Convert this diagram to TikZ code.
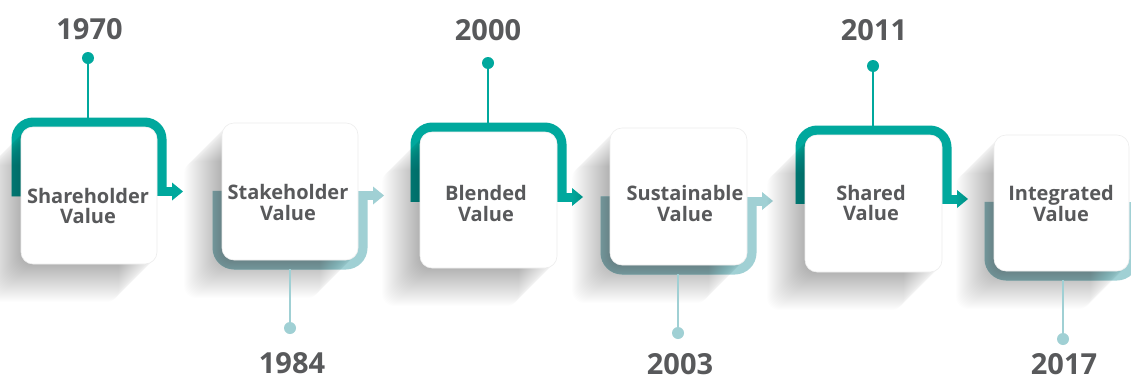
\documentclass[tikz,border=0pt]{standalone}
\usepackage{fontspec}
\setmainfont{Open Sans}
\definecolor{tealD}{RGB}{0,168,157}
\definecolor{tealL}{RGB}{160,208,212}
\definecolor{txt}{RGB}{88,89,91}
\newcommand\cardshadow[4]{%
  \foreach \k in {1,...,38}{\fill[shadowc] (#1-\k,#2+\k) rectangle (#3-\k,#4+\k);}}
% top bracket: L T R yA colour
\newcommand\topbracket[5]{%
  \draw[bracketline=#5] (#1-4.75,#4+4.75) -- (#1-4.75,#2-4.75) -- (#3+4.75,#2-4.75) -- (#3+4.75,#4);
  \fill[#5] (#3,#4-4.5) rectangle (#3+16,#4+4.5);
  \fill[#5] (#3+15,#4-9) -- (#3+26,#4) -- (#3+15,#4+9) -- cycle;}
% bottom bracket: L B R yA colour
\newcommand\botbracket[5]{%
  \draw[bracketline=#5] (#1-4.75,#4-4.75) -- (#1-4.75,#2+4.75) -- (#3+4.75,#2+4.75) -- (#3+4.75,#4);
  \fill[#5] (#3,#4-4.5) rectangle (#3+16,#4+4.5);
  \fill[#5] (#3+15,#4-9) -- (#3+26,#4) -- (#3+15,#4+9) -- cycle;}
\begin{document}
\begin{tikzpicture}[x=1pt,y=-1pt,
  shadowc/.style={black,fill opacity=0.006,rounded corners=12pt},
  bracketline/.style={draw=#1,line width=9.5pt,rounded corners=17pt},
  card/.style={draw=black!7,line width=0.6pt,fill=white,rounded corners=12pt,inner sep=0pt},
  cardtext/.style={text=txt,font=\fontsize{20}{20.5}\selectfont\bfseries,align=center,inner sep=0pt},
  year/.style={text=txt,font=\fontsize{29}{30}\selectfont\bfseries,inner sep=0pt},
  dotD/.style={circle,fill=tealD,minimum size=12pt,inner sep=0pt},
  dotL/.style={circle,fill=tealL,minimum size=12pt,inner sep=0pt},
  stemD/.style={draw=tealD,line width=2pt},
  stemL/.style={draw=tealL,line width=2pt}]
\useasboundingbox (0,0) rectangle (1131,378);
\clip (0,0) rectangle (1131,378);
\fill[white] (0,0) rectangle (1131,378);

% brackets with arrows
\topbracket{21}{127}{157}{191.5}{tealD}
\botbracket{222}{260}{358}{195.5}{tealL}
\topbracket{420}{132}{557}{197}{tealD}
\botbracket{610}{265}{747}{201}{tealL}
\topbracket{805}{135}{942}{199}{tealD}
\botbracket{994}{271}{1129}{206.5}{tealL}

% long shadows
\cardshadow{21}{127}{157}{264}
\cardshadow{222}{123}{358}{260}
\cardshadow{420}{132}{557}{268}
\cardshadow{610}{128}{747}{265}
\cardshadow{805}{135}{942}{272}
\cardshadow{994}{135}{1129}{271}

% cards
\node[card,minimum width=136pt,minimum height=137pt] (c1) at (89,195.5) {};
\node[card,minimum width=136pt,minimum height=137pt] (c2) at (290,191.5) {};
\node[card,minimum width=137pt,minimum height=136pt] (c3) at (488.5,200) {};
\node[card,minimum width=137pt,minimum height=137pt] (c4) at (678.5,196.5) {};
\node[card,minimum width=137pt,minimum height=137pt] (c5) at (873.5,203.5) {};
\node[card,minimum width=135pt,minimum height=136pt] (c6) at (1061.5,203) {};

% card texts
\node[cardtext] (t1) at (88,206) {Shareholder\\Value};
\node[cardtext] (t2) at (288,202.5) {Stakeholder\\Value};
\node[cardtext] (t3) at (486,203.5) {Blended\\Value};
\node[cardtext] (t4) at (685,203.5) {Sustainable\\Value};
\node[cardtext] (t5) at (871,203) {Shared\\Value};
\node[cardtext] (t6) at (1061,203.5) {Integrated\\Value};

% stems and dots
\node[dotD] (p1) at (88,58) {};
\node[dotL] (p2) at (290,328) {};
\node[dotD] (p3) at (488,63) {};
\node[dotL] (p4) at (678,333) {};
\node[dotD] (p5) at (873,66) {};
\node[dotL] (p6) at (1063,339) {};
\coordinate (s1) at (88,118);
\coordinate (s2) at (290,269);
\coordinate (s3) at (488,123);
\coordinate (s4) at (678,274);
\coordinate (s5) at (873,126);
\coordinate (s6) at (1063,280);
\draw[stemD] (p1.center) -- (s1);
\draw[stemL] (p2.center) -- (s2);
\draw[stemD] (p3.center) -- (s3);
\draw[stemL] (p4.center) -- (s4);
\draw[stemD] (p5.center) -- (s5);
\draw[stemL] (p6.center) -- (s6);

% years
\node[year] (y1) at (89.5,29) {1970};
\node[year] (y2) at (292,363.5) {1984};
\node[year] (y3) at (488,30) {2000};
\node[year] (y4) at (680,364) {2003};
\node[year] (y5) at (874,30) {2011};
\node[year] (y6) at (1064,364.5) {2017};
\end{tikzpicture}
\end{document}
